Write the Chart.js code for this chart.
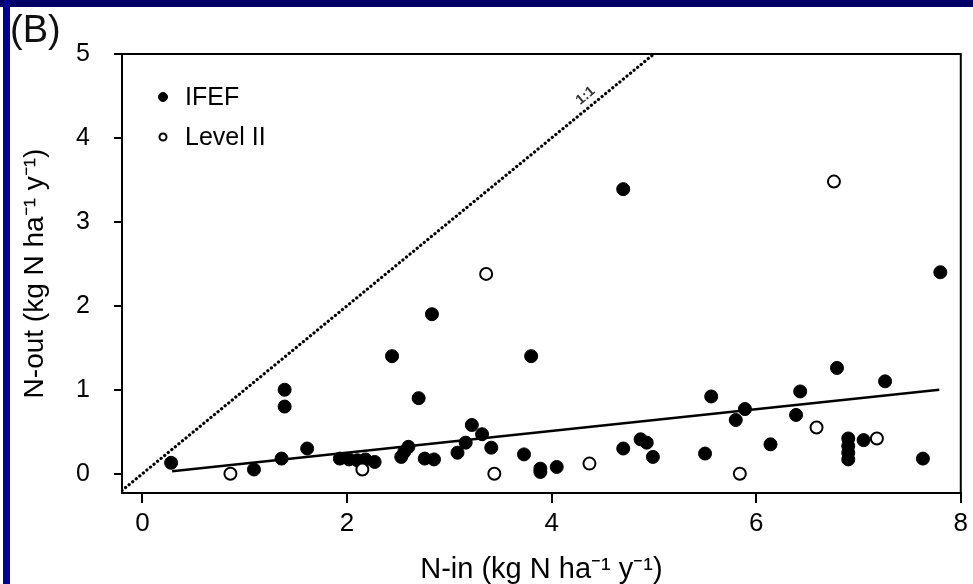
<!DOCTYPE html>
<html>
<head>
<meta charset="utf-8">
<script src="https://cdn.jsdelivr.net/npm/chart.js@4.4.1/dist/chart.umd.min.js"></script>
<style>
    html, body { margin: 0; padding: 0; background: #fff; }
    #wrap { position: relative; width: 973px; height: 584px; overflow: hidden; }
    #topband { position: absolute; left: 0; top: 0; width: 973px; height: 7px; background: #000064; }
    #leftband { position: absolute; left: 3px; top: 0; width: 7px; height: 584px; background: #000096; }
    #panel { position: absolute; left: 10px; top: 10px; font: 38px "Liberation Sans", Arial, sans-serif; color: #111; line-height: 1; }
</style>
</head>
<body>
<div id="wrap">
    <canvas id="chart" width="973" height="584"></canvas>
    <div id="topband"></div>
    <div id="leftband"></div>
    <div id="panel">(B)</div>
</div>
<script>
// Axis ticks
const xTicks = [0, 2, 4, 6, 8];
const yTicks = [0, 1, 2, 3, 4, 5];

// IFEF sites (filled circles)
const ifefX = [0.28, 1.09, 1.36, 1.39, 1.39, 1.61, 1.93, 2.02, 2.10, 2.18, 2.27, 2.44, 2.53, 2.56, 2.60,
    2.70, 2.76, 2.83, 2.85, 3.08, 3.16, 3.22, 3.32, 3.41, 3.73, 3.80, 3.89, 3.89, 4.05, 4.70, 4.70,
    4.87, 4.93, 4.99, 5.50, 5.56, 5.80, 5.89, 6.14, 6.39, 6.43, 6.79, 6.90, 6.90, 6.90, 6.90, 7.05,
    7.26, 7.63, 7.80];
const ifefY = [0.13, 0.05, 0.18, 1.00, 0.80, 0.30, 0.18, 0.17, 0.16, 0.17, 0.14, 1.40, 0.20, 0.26, 0.32,
    0.90, 0.18, 1.90, 0.17, 0.25, 0.37, 0.58, 0.47, 0.31, 0.23, 1.40, 0.02, 0.06, 0.08, 3.39, 0.30,
    0.41, 0.37, 0.20, 0.24, 0.92, 0.64, 0.77, 0.35, 0.70, 0.98, 1.26, 0.42, 0.33, 0.25, 0.17, 0.40,
    1.10, 0.18, 2.40];

// Level II sites (open circles)
const levelX = [0.86, 2.15, 3.36, 3.44, 4.37, 5.84, 6.59, 6.76, 7.18];
const levelY = [0.00, 0.05, 2.38, 0.00, 0.12, 0.00, 0.55, 3.48, 0.42];

// Regression line and 1:1 line
const fitX = [0.29, 7.79];
const fitY = [0.03, 1.00];
const oneX = [-0.2, 5];
const oneY = [-0.2, 5];
const oneLabelAt = 4.4;

const FONT = '"Liberation Sans", Arial, sans-serif';

function toPoints(xs, ys) {
    return xs.map((x, i) => ({ x: x, y: ys[i] }));
}

// Box around the plot area
const framePlugin = {
    id: 'frame',
    afterDraw(chart) {
        const a = chart.chartArea;
        const ctx = chart.ctx;
        ctx.save();
        ctx.strokeStyle = '#000';
        ctx.lineWidth = 2;
        ctx.strokeRect(a.left, a.top, a.right - a.left, a.bottom - a.top);
        ctx.restore();
    }
};

// "1:1" label along the dotted line
const oneLabelPlugin = {
    id: 'oneLabel',
    afterDatasetsDraw(chart) {
        const xs = chart.scales.x;
        const ys = chart.scales.y;
        const px = xs.getPixelForValue(oneLabelAt);
        const py = ys.getPixelForValue(oneLabelAt);
        const angle = Math.atan2(ys.getPixelForValue(1) - ys.getPixelForValue(0),
            xs.getPixelForValue(1) - xs.getPixelForValue(0));
        const ctx = chart.ctx;
        ctx.save();
        ctx.translate(px, py);
        ctx.rotate(angle);
        ctx.font = 'bold 14px ' + FONT;
        ctx.fillStyle = '#333';
        ctx.textAlign = 'center';
        ctx.textBaseline = 'bottom';
        ctx.fillText('1:1', 0, -4);
        ctx.restore();
    }
};

// Legend in the top left corner of the plot
const legendPlugin = {
    id: 'cornerLegend',
    afterDraw(chart) {
        const a = chart.chartArea;
        const ctx = chart.ctx;
        ctx.save();
        ctx.font = '25px ' + FONT;
        ctx.textBaseline = 'middle';
        chart.data.datasets.filter(d => d.inLegend).forEach((d, i) => {
            const cx = a.left + 41;
            const cy = a.top + 43 + i * 40;
            ctx.beginPath();
            ctx.arc(cx, cy, d.legendRadius, 0, Math.PI * 2);
            ctx.fillStyle = d.backgroundColor;
            ctx.fill();
            ctx.lineWidth = d.borderWidth;
            ctx.strokeStyle = d.borderColor;
            ctx.stroke();
            ctx.fillStyle = '#000';
            ctx.fillText(d.label, cx + 22, cy + 1);
        });
        ctx.restore();
    }
};

new Chart(document.getElementById('chart'), {
    type: 'scatter',
    data: {
        datasets: [
            {
                label: 'IFEF',
                data: toPoints(ifefX, ifefY),
                backgroundColor: '#000',
                borderColor: '#000',
                borderWidth: 1,
                pointRadius: 6.5,
                inLegend: true,
                legendRadius: 4.5,
                order: 1
            },
            {
                label: 'Level II',
                data: toPoints(levelX, levelY),
                backgroundColor: '#fff',
                borderColor: '#000',
                borderWidth: 2,
                pointRadius: 6,
                inLegend: true,
                legendRadius: 3.5,
                order: 0
            },
            {
                label: 'fit',
                data: toPoints(fitX, fitY),
                showLine: true,
                borderColor: '#000',
                borderWidth: 2.5,
                pointRadius: 0,
                order: 2
            },
            {
                label: '1:1',
                data: toPoints(oneX, oneY),
                showLine: true,
                borderColor: '#000',
                borderWidth: 3.2,
                borderDash: [0.1, 4.5],
                borderCapStyle: 'round',
                pointRadius: 0,
                order: 3
            }
        ]
    },
    options: {
        responsive: false,
        animation: false,
        layout: { padding: { left: 10, top: 54, right: 10, bottom: 0 } },
        plugins: {
            legend: { display: false },
            tooltip: { enabled: false }
        },
        scales: {
            x: {
                type: 'linear',
                min: -0.2,
                max: 8,
                afterBuildTicks: scale => { scale.ticks = xTicks.map(v => ({ value: v })); },
                afterFit: scale => { scale.height = 91; },
                grid: { drawOnChartArea: false, drawTicks: true, tickLength: 10, color: '#000', lineWidth: 2 },
                border: { display: true, color: '#000', width: 2 },
                ticks: { color: '#000', padding: 5, font: { family: FONT, size: 26 } },
                title: {
                    display: true,
                    text: 'N-in (kg N ha⁻¹ y⁻¹)',
                    color: '#000',
                    font: { family: FONT, size: 29, lineHeight: 1 },
                    padding: { top: 0, bottom: 0 }
                }
            },
            y: {
                type: 'linear',
                min: -0.23,
                max: 5,
                afterBuildTicks: scale => { scale.ticks = yTicks.map(v => ({ value: v })); },
                afterFit: scale => { scale.width = 112; },
                grid: { drawOnChartArea: false, drawTicks: true, tickLength: 8, color: '#000', lineWidth: 2 },
                border: { display: true, color: '#000', width: 2 },
                ticks: { color: '#000', padding: 24, font: { family: FONT, size: 25 } },
                title: {
                    display: true,
                    text: 'N-out (kg N ha⁻¹ y⁻¹)',
                    color: '#000',
                    font: { family: FONT, size: 28, lineHeight: 1 },
                    padding: { top: 11, bottom: 0 }
                }
            }
        }
    },
    plugins: [framePlugin, oneLabelPlugin, legendPlugin]
});
</script>
</body>
</html>
